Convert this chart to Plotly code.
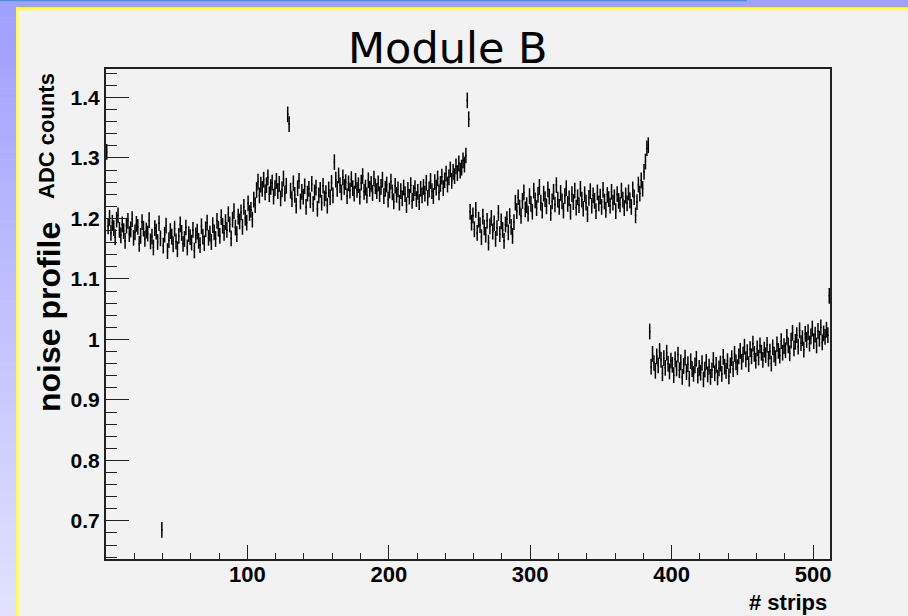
import plotly.graph_objects as go

# Noise per strip (ADC counts), one list per 128-strip readout chip
chip_a = [
    1.310, 1.187, 1.201, 1.176, 1.193, 1.184, 1.169, 1.198, 1.205, 1.181, 1.172, 1.190, 1.179, 1.163, 1.188, 1.196,
    1.174, 1.182, 1.199, 1.168, 1.177, 1.191, 1.186, 1.158, 1.171, 1.194, 1.183, 1.166, 1.180, 1.175, 1.197, 1.162,
    1.170, 1.152, 1.184, 1.178, 1.161, 1.192, 1.167, 0.685, 1.155, 1.173, 1.188, 1.146, 1.164, 1.179, 1.170, 1.157,
    1.183, 1.162, 1.149, 1.171, 1.190, 1.176, 1.158, 1.166, 1.185, 1.152, 1.174, 1.169, 1.160, 1.181, 1.147, 1.172,
    1.178, 1.163, 1.156, 1.187, 1.170, 1.159, 1.182, 1.193, 1.168, 1.175, 1.161, 1.189, 1.177, 1.166, 1.196, 1.183,
    1.171, 1.202, 1.188, 1.176, 1.194, 1.181, 1.207, 1.190, 1.167, 1.198, 1.212, 1.185, 1.174, 1.203, 1.195, 1.210,
    1.186, 1.219, 1.201, 1.193, 1.225, 1.209, 1.214, 1.198, 1.231, 1.222, 1.247, 1.261, 1.238, 1.256, 1.249, 1.264,
    1.243, 1.255, 1.268, 1.240, 1.252, 1.259, 1.236, 1.250, 1.262, 1.245, 1.257, 1.233, 1.248, 1.266, 1.241, 1.254,
]
chip_b = [
    1.372, 1.356, 1.246, 1.232, 1.258, 1.239, 1.221, 1.250, 1.262, 1.228, 1.244, 1.236, 1.253, 1.219, 1.241, 1.249,
    1.230, 1.257, 1.224, 1.243, 1.251, 1.216, 1.238, 1.247, 1.226, 1.254, 1.233, 1.242, 1.221, 1.248, 1.235, 1.259,
    1.238, 1.293, 1.264, 1.249, 1.271, 1.255, 1.243, 1.268, 1.252, 1.260, 1.237, 1.258, 1.246, 1.265, 1.250, 1.241,
    1.262, 1.247, 1.255, 1.236, 1.259, 1.270, 1.244, 1.251, 1.238, 1.263, 1.249, 1.257, 1.242, 1.266, 1.253, 1.245,
    1.258, 1.240, 1.252, 1.264, 1.237, 1.249, 1.256, 1.231, 1.246, 1.261, 1.243, 1.228, 1.254, 1.239, 1.248, 1.226,
    1.245, 1.233, 1.251, 1.240, 1.222, 1.247, 1.236, 1.255, 1.229, 1.242, 1.250, 1.232, 1.244, 1.227, 1.249, 1.238,
    1.252, 1.241, 1.259, 1.234, 1.248, 1.262, 1.245, 1.237, 1.260, 1.251, 1.266, 1.243, 1.257, 1.269, 1.250, 1.263,
    1.274, 1.256, 1.268, 1.281, 1.262, 1.277, 1.270, 1.286, 1.275, 1.291, 1.279, 1.284, 1.296, 1.289, 1.304, 1.395,
]
chip_c = [
    1.364, 1.211, 1.193, 1.205, 1.182, 1.214, 1.176, 1.198, 1.189, 1.169, 1.203, 1.185, 1.173, 1.196, 1.160, 1.187,
    1.201, 1.178, 1.192, 1.166, 1.184, 1.209, 1.174, 1.195, 1.181, 1.163, 1.190, 1.199, 1.177, 1.204, 1.186, 1.171,
    1.194, 1.226, 1.212, 1.235, 1.218, 1.204, 1.229, 1.243, 1.215, 1.222, 1.208, 1.237, 1.224, 1.211, 1.246, 1.230,
    1.217, 1.239, 1.252, 1.226, 1.213, 1.241, 1.232, 1.220, 1.248, 1.236, 1.209, 1.228, 1.244, 1.223, 1.255, 1.231,
    1.219, 1.242, 1.228, 1.213, 1.237, 1.250, 1.224, 1.233, 1.211, 1.240, 1.227, 1.246, 1.218, 1.235, 1.222, 1.249,
    1.231, 1.216, 1.240, 1.226, 1.207, 1.234, 1.245, 1.221, 1.238, 1.229, 1.212, 1.243, 1.225, 1.236, 1.219, 1.247,
    1.228, 1.214, 1.239, 1.232, 1.221, 1.244, 1.226, 1.235, 1.212, 1.240, 1.229, 1.223, 1.246, 1.231, 1.217, 1.238,
    1.225, 1.243, 1.230, 1.219, 1.248, 1.235, 1.205, 1.227, 1.256, 1.241, 1.263, 1.249, 1.277, 1.294, 1.316, 1.321,
]
chip_d = [
    1.013, 0.955, 0.976, 0.961, 0.948, 0.972, 0.957, 0.981, 0.966, 0.944, 0.969, 0.953, 0.978, 0.960, 0.947, 0.965,
    0.958, 0.941, 0.967, 0.952, 0.975, 0.949, 0.962, 0.938, 0.956, 0.970, 0.946, 0.959, 0.935, 0.964, 0.951, 0.943,
    0.957, 0.968, 0.940, 0.953, 0.945, 0.961, 0.934, 0.950, 0.963, 0.942, 0.955, 0.938, 0.949, 0.966, 0.944, 0.958,
    0.937, 0.952, 0.960, 0.943, 0.971, 0.955, 0.948, 0.964, 0.939, 0.957, 0.969, 0.951, 0.976, 0.962, 0.954, 0.972,
    0.981, 0.963, 0.975, 0.988, 0.967, 0.979, 0.959, 0.984, 0.972, 0.993, 0.976, 0.965, 0.985, 0.970, 0.990, 0.978,
    0.966, 0.983, 0.974, 0.991, 0.968, 0.980, 0.960, 0.987, 0.975, 0.969, 0.992, 0.981, 0.973, 0.997, 0.978, 0.989,
    0.982, 1.004, 0.990, 0.977, 0.998, 1.011, 0.985, 0.996, 1.007, 0.988, 1.015, 0.994, 1.002, 0.983, 1.009, 0.999,
    1.012, 0.993, 1.005, 1.018, 0.997, 1.008, 0.990, 1.014, 1.001, 1.020, 0.995, 1.010, 1.004, 1.016, 1.007, 1.072,
]
noise_err = 0.013          # per-strip uncertainty on the mean noise

x_tick_vals = [100, 200, 300, 400, 500]
y_tick_vals = [0.7, 0.8, 0.9, 1.0, 1.1, 1.2, 1.3, 1.4]
y_tick_text = ["0.7", "0.8", "0.9", "1", "1.1", "1.2", "1.3", "1.4"]

noise = chip_a + chip_b + chip_c + chip_d
strip_centres = [i + 0.5 for i in range(len(noise))]

W, H = 908, 616
L, R, T, B = 106, 830, 69, 559   # frame edges in pixels


def px_x(p):
    return (p - L) / (R - L)


def px_y(p):
    return (B - p) / (B - T)


fig = go.Figure()
fig.add_trace(go.Scatter(
    x=strip_centres, y=noise, mode="markers",
    marker=dict(size=1, color="black"),
    error_x=dict(type="constant", value=0.5, width=0, thickness=1.5, color="black"),
    error_y=dict(type="constant", value=noise_err, width=0, thickness=1.5, color="black"),
    showlegend=False, hoverinfo="x+y",
))

shapes = []
# slide border: blue band on top and a vertical gradient strip on the left
shapes.append(dict(type="rect", xref="paper", yref="paper", layer="below",
                   x0=px_x(0), x1=px_x(W), y0=px_y(7.5), y1=px_y(0),
                   fillcolor="#A0A0FF", line=dict(width=0)))
n_steps = 60
for k in range(n_steps):
    t = k / (n_steps - 1)
    r = int(0xA0 + (0xE2 - 0xA0) * t)
    col = f"rgb({r},{r},255)"
    y0p = 7 + (H - 7) * k / n_steps
    y1p = 7 + (H - 7) * (k + 1) / n_steps + 0.5
    shapes.append(dict(type="rect", xref="paper", yref="paper", layer="below",
                       x0=px_x(0), x1=px_x(16), y0=px_y(y1p), y1=px_y(y0p),
                       fillcolor=col, line=dict(width=0)))
# thin cyan rule along the very top
shapes.append(dict(type="rect", xref="paper", yref="paper", layer="below",
                   x0=px_x(0), x1=px_x(747), y0=px_y(1.2), y1=px_y(0),
                   fillcolor="#3A9AD0", line=dict(width=0)))
# yellow edge of the panel
shapes.append(dict(type="rect", xref="paper", yref="paper", layer="below",
                   x0=px_x(16), x1=px_x(W), y0=px_y(10.5), y1=px_y(7.5),
                   fillcolor="#FFFF40", line=dict(width=0)))
shapes.append(dict(type="rect", xref="paper", yref="paper", layer="below",
                   x0=px_x(16), x1=px_x(18.5), y0=px_y(H), y1=px_y(7.5),
                   fillcolor="#FFFF40", line=dict(width=0)))

bold = dict(family="Liberation Sans, Arial, sans-serif", color="black", weight="bold")

annotations = [
    dict(text="Module B", xref="paper", yref="paper", x=px_x(448), y=px_y(48),
         xanchor="center", yanchor="middle", showarrow=False,
         font=dict(family="DejaVu Sans, sans-serif", size=43, color="black")),
    dict(text="noise profile", xref="paper", yref="paper", x=px_x(49), y=px_y(317),
         xanchor="center", yanchor="middle", textangle=-90, showarrow=False,
         font=dict(size=32, **bold)),
    dict(text="ADC counts", xref="paper", yref="paper", x=px_x(46), y=px_y(136),
         xanchor="center", yanchor="middle", textangle=-90, showarrow=False,
         font=dict(size=22, **bold)),
    dict(text="# strips", xref="paper", yref="paper", x=px_x(829), y=px_y(602),
         xanchor="right", yanchor="middle", showarrow=False,
         font=dict(size=22, **bold)),
]

fig.update_layout(
    width=W, height=H, autosize=False,
    margin=dict(l=L, r=W - R, t=T, b=H - B, pad=0),
    paper_bgcolor="#F2F2F2", plot_bgcolor="#F2F2F2",
    shapes=shapes, annotations=annotations,
    xaxis=dict(
        range=[0, 512], tickvals=x_tick_vals, ticks="inside", ticklen=14,
        tickwidth=1.3, tickcolor="#222", showgrid=False, zeroline=False,
        showline=True, linecolor="#222", linewidth=2, mirror=True,
        tickfont=dict(size=22, **bold), ticklabelstandoff=-5,
        minor=dict(tick0=0, dtick=20, ticks="inside", ticklen=6,
                   tickwidth=1.3, tickcolor="#222", showgrid=False),
    ),
    yaxis=dict(
        range=[0.637, 1.447], tickvals=y_tick_vals, ticktext=y_tick_text,
        ticks="inside", ticklen=23, tickwidth=1.3, tickcolor="#222",
        showgrid=False, zeroline=False,
        showline=True, linecolor="#222", linewidth=2, mirror=True,
        tickfont=dict(size=21, **bold),
        minor=dict(tick0=0.6, dtick=0.02, ticks="inside", ticklen=11,
                   tickwidth=1.3, tickcolor="#222", showgrid=False),
    ),
)

fig.write_html("out.html")
